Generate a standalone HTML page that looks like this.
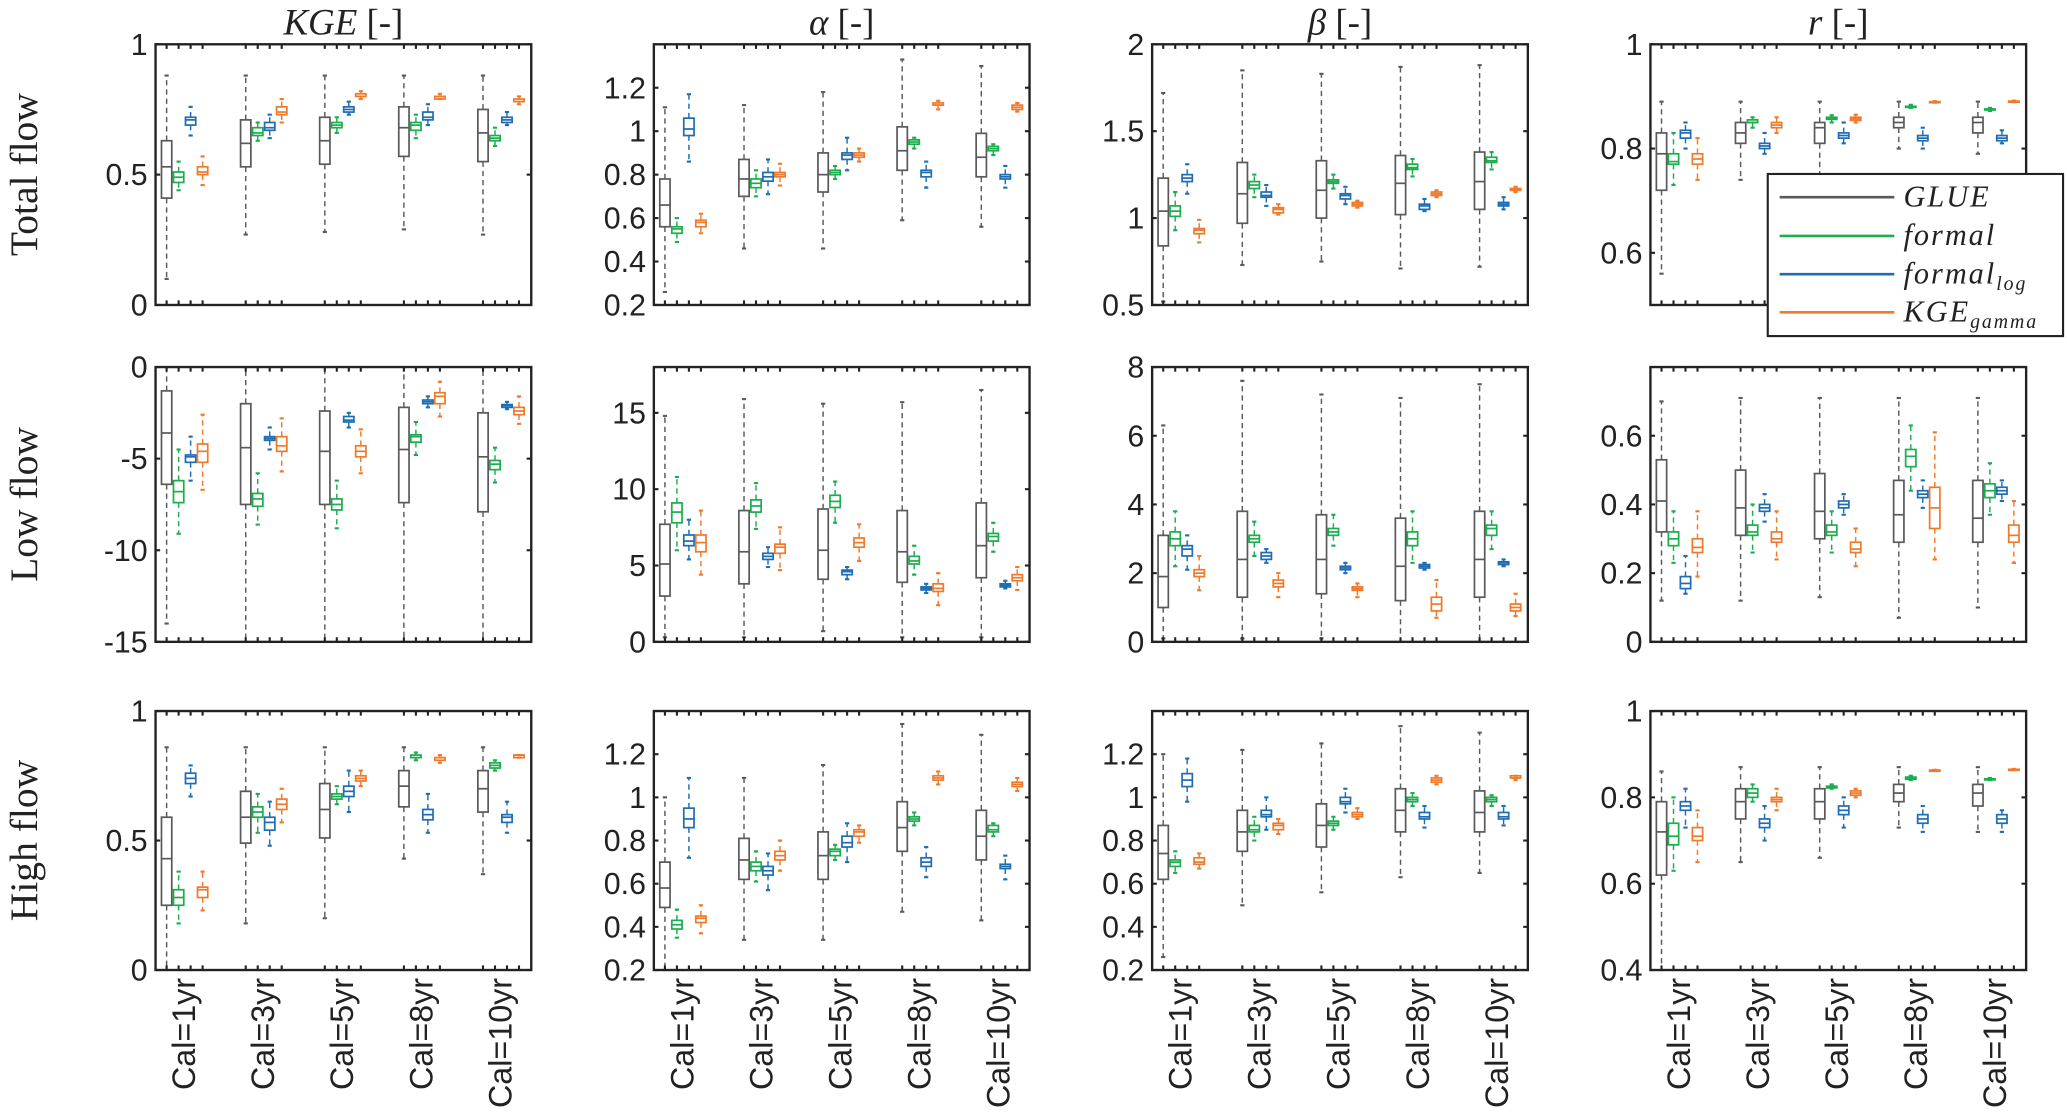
<!DOCTYPE html>
<html><head><meta charset="utf-8"><style>
html,body{margin:0;padding:0;background:#fff;}
svg{display:block;}
.tk{font-family:"Liberation Sans",sans-serif;font-size:23px;fill:#222;}
.ttl{font-family:"Liberation Serif",serif;font-size:25px;fill:#222;}
</style></head><body>
<svg id="fig" xmlns="http://www.w3.org/2000/svg" width="2067" height="1115" viewBox="0 0 1568 846" preserveAspectRatio="none"></svg>
<script>
// ---- data: [series][group][min,q1,med,q3,max]; series order GLUE, formal, formal_log, KGE_gamma
const calLabels = ["Cal=1yr","Cal=3yr","Cal=5yr","Cal=8yr","Cal=10yr"];
const seriesNames = ["GLUE","formal","formal_log","KGE_gamma"];
const colTitles = ["KGE","α","β","r"];
const rowTitles = ["Total flow","Low flow","High flow"];

const totalKGE = [
 [[0.10,0.41,0.53,0.63,0.88],[0.27,0.53,0.62,0.71,0.88],[0.28,0.54,0.63,0.72,0.88],[0.29,0.57,0.68,0.76,0.88],[0.27,0.55,0.66,0.75,0.88]],
 [[0.44,0.47,0.49,0.51,0.55],[0.63,0.65,0.66,0.68,0.70],[0.66,0.68,0.69,0.70,0.72],[0.64,0.67,0.69,0.70,0.73],[0.61,0.63,0.64,0.65,0.68]],
 [[0.65,0.69,0.71,0.72,0.76],[0.64,0.67,0.68,0.70,0.73],[0.73,0.74,0.75,0.76,0.78],[0.69,0.71,0.72,0.74,0.77],[0.69,0.70,0.71,0.72,0.74]],
 [[0.46,0.50,0.51,0.53,0.57],[0.70,0.73,0.74,0.76,0.79],[0.79,0.80,0.80,0.81,0.82],[0.79,0.79,0.80,0.80,0.81],[0.77,0.78,0.78,0.79,0.80]]];
const totalAlpha = [
 [[0.26,0.56,0.66,0.78,1.11],[0.46,0.70,0.78,0.87,1.12],[0.46,0.72,0.80,0.90,1.18],[0.59,0.82,0.91,1.02,1.33],[0.56,0.79,0.88,0.99,1.30]],
 [[0.49,0.53,0.55,0.56,0.60],[0.70,0.74,0.76,0.78,0.82],[0.78,0.80,0.81,0.82,0.84],[0.92,0.94,0.95,0.96,0.97],[0.89,0.91,0.92,0.93,0.94]],
 [[0.86,0.98,1.01,1.06,1.17],[0.71,0.77,0.79,0.81,0.87],[0.82,0.87,0.89,0.90,0.97],[0.74,0.79,0.81,0.82,0.86],[0.74,0.78,0.79,0.80,0.84]],
 [[0.53,0.56,0.58,0.59,0.62],[0.75,0.79,0.80,0.81,0.85],[0.86,0.88,0.89,0.90,0.92],[1.10,1.12,1.12,1.13,1.14],[1.09,1.10,1.11,1.12,1.13]]];
const totalBeta = [
 [[0.52,0.84,1.04,1.23,1.72],[0.73,0.97,1.14,1.32,1.85],[0.75,1.00,1.16,1.33,1.83],[0.71,1.02,1.20,1.36,1.87],[0.72,1.05,1.21,1.38,1.88]],
 [[0.93,1.01,1.04,1.07,1.15],[1.12,1.17,1.19,1.21,1.25],[1.17,1.20,1.21,1.22,1.25],[1.24,1.28,1.29,1.31,1.34],[1.28,1.32,1.33,1.35,1.38]],
 [[1.14,1.21,1.23,1.25,1.31],[1.07,1.12,1.13,1.15,1.19],[1.08,1.11,1.13,1.14,1.18],[1.04,1.05,1.07,1.08,1.11],[1.05,1.07,1.08,1.09,1.12]],
 [[0.86,0.91,0.93,0.94,0.99],[1.02,1.03,1.05,1.06,1.08],[1.06,1.07,1.08,1.09,1.10],[1.12,1.13,1.14,1.15,1.16],[1.15,1.16,1.16,1.17,1.18]]];
const totalR = [
 [[0.56,0.72,0.79,0.83,0.89],[0.74,0.81,0.83,0.85,0.89],[0.74,0.81,0.84,0.85,0.89],[0.80,0.84,0.85,0.86,0.89],[0.79,0.83,0.85,0.86,0.89]],
 [[0.73,0.77,0.775,0.79,0.83],[0.84,0.85,0.85,0.855,0.86],[0.85,0.856,0.858,0.86,0.864],[0.878,0.879,0.88,0.881,0.884],[0.872,0.874,0.875,0.876,0.878]],
 [[0.80,0.82,0.83,0.835,0.85],[0.79,0.80,0.805,0.81,0.83],[0.81,0.82,0.825,0.83,0.85],[0.80,0.815,0.82,0.825,0.84],[0.81,0.815,0.82,0.825,0.835]],
 [[0.74,0.77,0.78,0.79,0.82],[0.83,0.84,0.845,0.85,0.86],[0.85,0.854,0.857,0.86,0.865],[0.888,0.889,0.889,0.89,0.891],[0.889,0.89,0.89,0.891,0.892]]];

const lowKGE = [
 [[-14.0,-6.4,-3.6,-1.3,0],[-15,-7.5,-4.4,-2.0,0],[-15,-7.5,-4.6,-2.4,0],[-15,-7.4,-4.5,-2.2,0],[-15,-7.9,-4.9,-2.5,0]],
 [[-9.1,-7.4,-6.8,-6.2,-4.5],[-8.6,-7.6,-7.2,-6.9,-5.8],[-8.8,-7.8,-7.5,-7.2,-6.2],[-4.8,-4.1,-3.8,-3.7,-3.0],[-6.3,-5.6,-5.3,-5.1,-4.4]],
 [[-6.2,-5.2,-4.9,-4.8,-3.8],[-4.5,-4.0,-3.9,-3.8,-3.3],[-3.3,-3.0,-2.9,-2.7,-2.5],[-2.2,-2.0,-1.9,-1.8,-1.6],[-2.3,-2.2,-2.1,-2.05,-1.9]],
 [[-6.7,-5.2,-4.6,-4.2,-2.6],[-5.7,-4.6,-4.3,-3.8,-2.8],[-5.8,-4.9,-4.6,-4.3,-3.4],[-2.7,-2.0,-1.6,-1.4,-0.8],[-3.1,-2.6,-2.4,-2.2,-1.6]]];
const lowAlpha = [
 [[0.3,3.0,5.1,7.7,14.8],[0.3,3.8,5.9,8.6,15.9],[0.7,4.1,6.0,8.7,15.6],[0.3,3.9,5.9,8.6,15.7],[0.3,4.2,6.3,9.1,16.5]],
 [[6.0,7.8,8.5,9.1,10.8],[7.4,8.5,8.9,9.3,10.4],[7.8,8.8,9.2,9.6,10.5],[4.4,5.1,5.3,5.6,6.3],[5.9,6.6,6.9,7.1,7.8]],
 [[5.4,6.3,6.6,7.0,8.0],[4.9,5.4,5.6,5.8,6.2],[4.1,4.4,4.6,4.7,4.9],[3.2,3.4,3.5,3.6,3.8],[3.5,3.6,3.7,3.8,4.0]],
 [[4.4,5.9,6.5,7.0,8.6],[4.7,5.8,6.2,6.4,7.5],[5.3,6.2,6.5,6.8,7.7],[2.4,3.3,3.5,3.8,4.5],[3.4,4.0,4.2,4.4,4.9]]];
const lowBeta = [
 [[0.1,1.0,1.9,3.1,6.3],[0.1,1.3,2.4,3.8,7.6],[0.1,1.4,2.4,3.7,7.2],[0.0,1.2,2.2,3.6,7.1],[0.0,1.3,2.4,3.8,7.5]],
 [[2.2,2.8,3.0,3.2,3.8],[2.5,2.9,3.0,3.1,3.5],[2.8,3.1,3.2,3.3,3.7],[2.3,2.8,3.0,3.2,3.8],[2.7,3.1,3.3,3.4,3.8]],
 [[2.1,2.5,2.7,2.8,3.1],[2.3,2.4,2.5,2.6,2.7],[2.0,2.1,2.15,2.2,2.3],[2.1,2.15,2.2,2.25,2.3],[2.2,2.25,2.3,2.33,2.4]],
 [[1.5,1.9,2.0,2.1,2.5],[1.3,1.6,1.7,1.8,2.0],[1.3,1.5,1.55,1.6,1.7],[0.7,0.9,1.1,1.3,1.8],[0.75,0.9,1.0,1.1,1.4]]];
const lowR = [
 [[0.12,0.32,0.41,0.53,0.70],[0.12,0.31,0.39,0.50,0.71],[0.13,0.30,0.38,0.49,0.71],[0.07,0.29,0.37,0.47,0.71],[0.10,0.29,0.36,0.47,0.71]],
 [[0.23,0.28,0.30,0.32,0.38],[0.26,0.31,0.32,0.34,0.40],[0.26,0.31,0.32,0.34,0.38],[0.44,0.51,0.54,0.56,0.63],[0.37,0.42,0.44,0.46,0.52]],
 [[0.14,0.155,0.17,0.19,0.25],[0.35,0.38,0.39,0.40,0.43],[0.37,0.39,0.40,0.41,0.43],[0.39,0.42,0.43,0.44,0.47],[0.41,0.43,0.44,0.45,0.47]],
 [[0.19,0.26,0.275,0.30,0.38],[0.24,0.29,0.30,0.32,0.38],[0.22,0.26,0.27,0.29,0.33],[0.24,0.33,0.39,0.45,0.61],[0.23,0.29,0.31,0.34,0.41]]];

const highKGE = [
 [[0.0,0.25,0.43,0.59,0.86],[0.18,0.49,0.59,0.69,0.86],[0.20,0.51,0.62,0.72,0.86],[0.43,0.63,0.71,0.77,0.86],[0.37,0.61,0.70,0.77,0.86]],
 [[0.18,0.25,0.28,0.31,0.38],[0.53,0.59,0.61,0.63,0.68],[0.64,0.66,0.67,0.68,0.71],[0.81,0.82,0.82,0.83,0.84],[0.77,0.78,0.79,0.80,0.81]],
 [[0.67,0.72,0.74,0.76,0.79],[0.48,0.54,0.57,0.59,0.65],[0.61,0.67,0.69,0.71,0.77],[0.53,0.58,0.60,0.62,0.68],[0.53,0.57,0.59,0.60,0.65]],
 [[0.23,0.28,0.31,0.32,0.38],[0.57,0.62,0.64,0.66,0.70],[0.71,0.73,0.74,0.75,0.77],[0.80,0.81,0.82,0.82,0.83],[0.82,0.82,0.83,0.83,0.83]]];
const highAlpha = [
 [[0.2,0.49,0.58,0.70,1.0],[0.34,0.62,0.71,0.81,1.09],[0.34,0.62,0.73,0.84,1.15],[0.47,0.75,0.86,0.98,1.34],[0.43,0.71,0.82,0.94,1.29]],
 [[0.35,0.39,0.41,0.43,0.48],[0.61,0.66,0.68,0.70,0.75],[0.71,0.73,0.75,0.76,0.78],[0.87,0.89,0.90,0.91,0.93],[0.82,0.84,0.85,0.87,0.88]],
 [[0.72,0.86,0.90,0.95,1.09],[0.57,0.64,0.66,0.68,0.74],[0.70,0.77,0.79,0.82,0.88],[0.63,0.68,0.70,0.72,0.77],[0.62,0.67,0.68,0.69,0.73]],
 [[0.37,0.42,0.44,0.45,0.50],[0.66,0.71,0.73,0.75,0.80],[0.79,0.82,0.84,0.85,0.87],[1.06,1.08,1.09,1.10,1.12],[1.03,1.05,1.06,1.07,1.09]]];
const highBeta = [
 [[0.26,0.62,0.74,0.87,1.20],[0.50,0.75,0.84,0.94,1.22],[0.56,0.77,0.87,0.97,1.25],[0.63,0.84,0.94,1.04,1.33],[0.65,0.84,0.93,1.03,1.30]],
 [[0.65,0.68,0.70,0.71,0.75],[0.80,0.84,0.85,0.87,0.91],[0.85,0.87,0.88,0.89,0.91],[0.96,0.98,0.99,1.0,1.02],[0.96,0.98,0.99,1.0,1.01]],
 [[0.98,1.05,1.08,1.11,1.18],[0.85,0.91,0.92,0.94,1.0],[0.93,0.97,0.98,1.0,1.04],[0.86,0.90,0.91,0.93,0.96],[0.87,0.90,0.91,0.93,0.96]],
 [[0.67,0.69,0.70,0.72,0.74],[0.83,0.85,0.87,0.88,0.90],[0.90,0.91,0.92,0.93,0.95],[1.06,1.07,1.08,1.09,1.10],[1.08,1.09,1.09,1.10,1.10]]];
const highR = [
 [[0.40,0.62,0.72,0.79,0.86],[0.65,0.75,0.79,0.82,0.87],[0.66,0.75,0.79,0.82,0.87],[0.73,0.79,0.81,0.83,0.87],[0.72,0.78,0.81,0.83,0.87]],
 [[0.63,0.69,0.71,0.74,0.80],[0.79,0.80,0.81,0.82,0.83],[0.82,0.822,0.824,0.826,0.83],[0.84,0.842,0.845,0.847,0.85],[0.84,0.841,0.842,0.843,0.845]],
 [[0.73,0.77,0.78,0.79,0.82],[0.70,0.73,0.74,0.75,0.78],[0.73,0.76,0.77,0.78,0.80],[0.72,0.74,0.75,0.76,0.78],[0.72,0.74,0.75,0.76,0.77]],
 [[0.65,0.70,0.71,0.73,0.77],[0.77,0.79,0.795,0.80,0.82],[0.80,0.805,0.81,0.815,0.82],[0.862,0.862,0.863,0.863,0.864],[0.864,0.864,0.865,0.865,0.866]]];

const ticksKGE = [0,0.5,1];
const ticksAlphaTop = [0.2,0.4,0.6,0.8,1,1.2];
const ticksBetaTop = [0.5,1,1.5,2];
const ticksRTop = [0.6,0.8,1];
const ticksKGELow = [-15,-10,-5,0];
const ticksAlphaLow = [0,5,10,15];
const ticksBetaLow = [0,2,4,6,8];
const ticksRLow = [0,0.2,0.4,0.6];
const ticksRHigh = [0.4,0.6,0.8,1];
const ticksHighAB = [0.2,0.4,0.6,0.8,1,1.2];

// ---- layout
const NS = "http://www.w3.org/2000/svg";
const svg = document.getElementById("fig");
const colors = ["#5a5a5a","#1cae4e","#1f6db3","#ef7a2c"];
const colX = [118,496,874,1252], PW = 285;
const rowY = [[33.6,231.4],[278.5,487],[539.5,736]];
const panels = [
 {r:0,c:0,d:totalKGE,lo:0,hi:1,t:ticksKGE,n:"total-kge"},
 {r:0,c:1,d:totalAlpha,lo:0.2,hi:1.4,t:ticksAlphaTop,n:"total-alpha"},
 {r:0,c:2,d:totalBeta,lo:0.5,hi:2,t:ticksBetaTop,n:"total-beta"},
 {r:0,c:3,d:totalR,lo:0.5,hi:1,t:ticksRTop,n:"total-r"},
 {r:1,c:0,d:lowKGE,lo:-15,hi:0,t:ticksKGELow,n:"low-kge"},
 {r:1,c:1,d:lowAlpha,lo:0,hi:18,t:ticksAlphaLow,n:"low-alpha"},
 {r:1,c:2,d:lowBeta,lo:0,hi:8,t:ticksBetaLow,n:"low-beta"},
 {r:1,c:3,d:lowR,lo:0,hi:0.8,t:ticksRLow,n:"low-r"},
 {r:2,c:0,d:highKGE,lo:0,hi:1,t:ticksKGE,n:"high-kge"},
 {r:2,c:1,d:highAlpha,lo:0.2,hi:1.4,t:ticksHighAB,n:"high-alpha"},
 {r:2,c:2,d:highBeta,lo:0.2,hi:1.4,t:ticksHighAB,n:"high-beta"},
 {r:2,c:3,d:highR,lo:0.4,hi:1,t:ticksRHigh,n:"high-r"}];

function mk(tag, attrs, parent){
  const e = document.createElementNS(NS, tag);
  for (const k in attrs) e.setAttribute(k, attrs[k]);
  (parent||svg).appendChild(e);
  return e;
}
function fmt(v){ return (Math.round(v*10)/10).toString(); }

panels.forEach(p=>{
  const x0 = colX[p.c], x1 = x0+PW, y0 = rowY[p.r][0], y1 = rowY[p.r][1];
  const ys = v => y1 - (v-p.lo)/(p.hi-p.lo)*(y1-y0);
  const xs = (g,k) => x0 + 8.4 + g*60 + k*9.1;
  const g0 = mk("g",{});
  
  
  p.d.forEach((ser,k)=>{
    ser.forEach((st,g)=>{
      const cx = xs(g,k), hw = 3.9, col = colors[k];
      const bg = mk("g",{}, g0);
      
      
      const dash = "4,3";
      mk("line",{x1:cx,x2:cx,y1:ys(st[3]),y2:ys(st[4]),stroke:col,"stroke-width":1.1,"stroke-dasharray":dash},bg);
      mk("line",{x1:cx,x2:cx,y1:ys(st[1]),y2:ys(st[0]),stroke:col,"stroke-width":1.1,"stroke-dasharray":dash},bg);
      mk("line",{x1:cx-1.6,x2:cx+1.6,y1:ys(st[4]),y2:ys(st[4]),stroke:col,"stroke-width":1.6},bg);
      mk("line",{x1:cx-1.6,x2:cx+1.6,y1:ys(st[0]),y2:ys(st[0]),stroke:col,"stroke-width":1.6},bg);
      mk("rect",{x:cx-hw,y:ys(st[3]),width:2*hw,height:Math.max(0.8,ys(st[1])-ys(st[3])),fill:"none",stroke:col,"stroke-width":1.3},bg);
      mk("line",{x1:cx-hw,x2:cx+hw,y1:ys(st[2]),y2:ys(st[2]),stroke:col,"stroke-width":1.3},bg);
    });
  });
  const fr = mk("rect",{x:x0,y:y0,width:PW,height:y1-y0,fill:"none",stroke:"#222","stroke-width":1.8},g0);
  
  
  for(let g=0;g<5;g++) for(let k=0;k<4;k++){
    const x = xs(g,k);
    mk("line",{x1:x,x2:x,y1:y1,y2:y1-3.5,stroke:"#222","stroke-width":1.6},g0);
    mk("line",{x1:x,x2:x,y1:y0,y2:y0+3.5,stroke:"#222","stroke-width":1.6},g0);
  }
  p.t.forEach(v=>{
    const y = ys(v);
    mk("line",{x1:x0,x2:x0+3.5,y1:y,y2:y,stroke:"#222","stroke-width":1.6},g0);
    mk("line",{x1:x1,x2:x1-3.5,y1:y,y2:y,stroke:"#222","stroke-width":1.6},g0);
    const t = mk("text",{x:x0-6,y:y+8,"text-anchor":"end",class:"tk"},g0);
    
    
    t.textContent = fmt(v);
  });
  if(p.r===2){
    calLabels.forEach((lab,g)=>{
      const cx = xs(g,0)+13.5+8, yy = y1+6;
      const t = mk("text",{x:0,y:0,"text-anchor":"end",class:"tk",style:"font-size:24.5px",transform:`translate(${cx},${yy}) rotate(-90)`},g0);
      
      
      t.textContent = lab;
    });
  }
});

const titleHTML = [
 '<tspan font-style="italic">KGE</tspan> [-]',
 '<tspan font-style="italic">α</tspan> [-]',
 '<tspan font-style="italic">β</tspan> [-]',
 '<tspan font-style="italic">r</tspan> [-]'];
titleHTML.forEach((h,i)=>{
  const t = mk("text",{x:colX[i]+PW/2,y:26,"text-anchor":"middle",class:"ttl",style:"font-size:28px"});
  
  
  t.innerHTML = h;
});
rowTitles.forEach((s,i)=>{
  const cy = (rowY[i][0]+rowY[i][1])/2;
  const t = mk("text",{x:0,y:0,"text-anchor":"middle",class:"ttl",style:"font-size:30px",transform:`translate(28,${cy}) rotate(-90)`});
  
  
  t.textContent = s;
});

const lg = mk("g",{});


mk("rect",{x:1341,y:132,width:224,height:123,fill:"#fff",stroke:"#222","stroke-width":1.6},lg);
const legLabels = [
 'GLUE',
 'formal',
 'formal<tspan font-size="15" dy="5">log</tspan>',
 'KGE<tspan font-size="15" dy="5">gamma</tspan>'];
const legY = [149.6,179,208,237];
legLabels.forEach((h,i)=>{
  const e = mk("g",{},lg);
  
  
  mk("line",{x1:1350,x2:1437,y1:legY[i],y2:legY[i],stroke:colors[i],"stroke-width":2},e);
  const t = mk("text",{x:1444,y:legY[i]+7,class:"ttl","font-style":"italic",style:"font-size:23px;letter-spacing:1.5px"},e);
  t.innerHTML = h;
});
</script>
</body></html>
